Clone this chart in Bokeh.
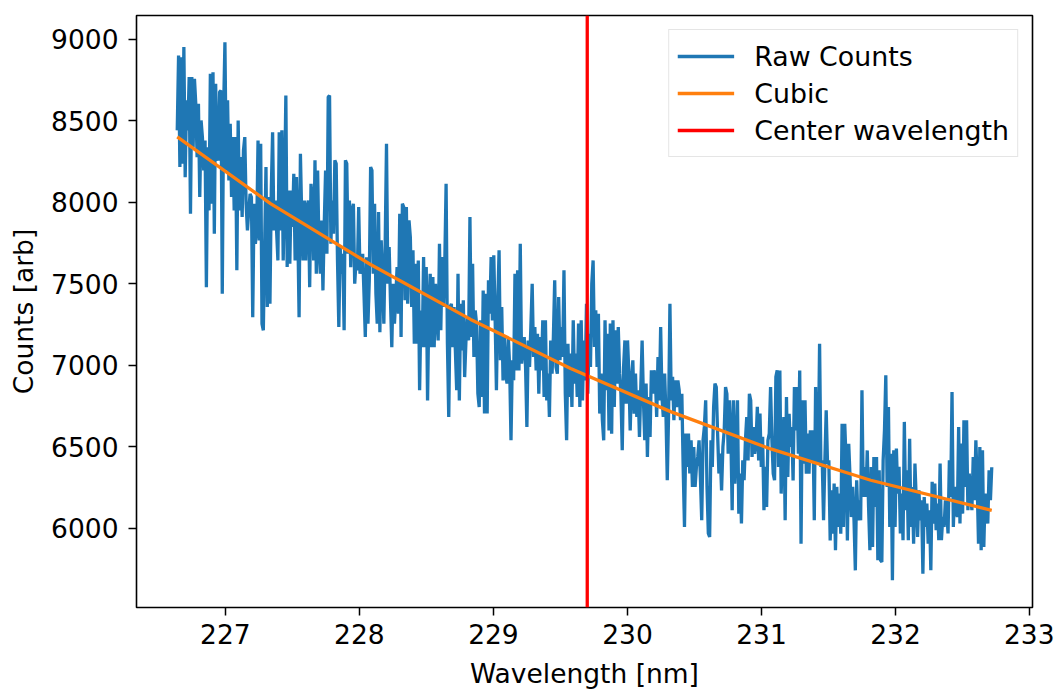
import numpy as np
from bokeh.plotting import figure
from bokeh.models import Range1d, FixedTicker
from bokeh.embed import file_html
from bokeh.resources import INLINE

# ---------------- data ----------------
wl_start = 226.641
wl_end = 232.718
center_wavelength = 229.70

counts_a = [8442, 8902, 8217, 8891, 8237, 8953, 8155, 8626, 8442, 8769, 7930, 8769, 8339, 8758, 8605, 8278,
            8605, 8033, 8503, 8401, 8196, 8380, 7480, 8339, 7951, 8789, 7992, 8799, 7808, 8728, 8278, 8257,
            8677, 8687, 7440, 8564, 8983, 8196, 8626, 8135, 8482, 8033, 8401, 7951, 8401, 7583, 8503, 7951,
            8278, 7910, 8319, 8401, 7992, 7828, 7951, 8053, 8033, 7296, 7992, 7746, 7828, 8380, 7767, 8360,
            7255, 7215, 7746, 8217, 7358, 8033, 7378, 8074, 8431, 7828, 8012, 7828]
counts_b = [7644, 8431, 7828, 8442, 7644, 8053, 8656, 7603, 8073, 7624, 8073, 7849, 8176, 7644, 8155, 7849,
            7296, 8298, 7910, 7644, 8012, 7644, 7971, 8012, 7480, 8114, 8012, 7644, 8258, 7562, 8196, 7726,
            7562, 7889, 7460, 7869, 8196, 7685, 8646, 8656, 7746, 8012, 7808, 8258, 8238, 7644, 7235, 7726,
            7562, 7685, 7215, 8258, 8238, 7685, 8012, 7603, 7951, 7992, 7501, 7644, 7583, 7971, 7562, 7644,
            7685, 7440, 7174, 7664, 7255, 7521, 8217, 8197, 7562, 7992, 7440]
counts_c = [7256, 7941, 7204, 7767, 7542, 7256, 7746, 8360, 7501, 7726, 7399, 7112, 7501, 7256, 7419, 7603,
            7317, 7930, 7174, 7992, 7971, 7399, 7971, 7378, 7890, 7787, 7358, 7706, 7133, 7624, 7133, 7644,
            6847, 7337, 7112, 7665, 7112, 7603, 6785, 7358, 7562, 7112, 7542, 7112, 7501, 7296, 7153, 7746,
            7215, 7665, 7358, 7624, 8114, 7133, 6683, 7358, 7378, 7112, 7358, 7092, 6847, 7562, 6785, 7378,
            7092, 7399, 6928, 7153, 7296, 7153, 7910, 7174, 7624, 7051, 7337, 7256]
counts_d = [6826, 6744, 7276, 6806, 7460, 6704, 7440, 6704, 7522, 7317, 7665, 7276, 7675, 7297, 6847, 7378,
            7706, 7031, 7358, 6908, 7174, 6949, 6888, 7174, 6990, 6540, 7031, 6908, 7562, 6969, 7583, 6969,
            7746, 7010, 7112, 7174, 6990, 6622, 7153, 6990, 7235, 7501, 7051, 7235, 6969, 7194, 6826, 7174,
            6969, 7276, 6806, 7276, 6785, 6949, 6683, 7153, 6949, 7174, 7522, 6990, 6949, 7419, 7031, 7235,
            7051, 7583, 6826, 6540, 7133, 6806, 7072, 6744, 7276, 6888, 7072, 6806]
counts_e = [7256, 6744, 7276, 6785, 7153, 6908, 7378, 6826, 7194, 6990, 7501, 7644, 7113, 7338, 6990, 7317,
            6704, 6949, 6663, 6540, 7276, 6847, 7194, 6601, 7256, 6581, 7276, 6744, 7215, 6888, 7235, 6949,
            6826, 6479, 6990, 7153, 6765, 7153, 6949, 6601, 6908, 7031, 6704, 6949, 6683, 6847, 6560, 6867,
            7153, 6785, 6540, 6888, 6438, 6806, 6560, 6969, 6826, 6969, 6929, 6683, 7051, 6785, 7235, 6806,
            6683, 6949, 6704, 6295, 6704, 7378, 6785, 6929, 6663, 6908, 6744, 6908]
counts_f = [6847, 6663, 6826, 6377, 6008, 6581, 6377, 6581, 6336, 6540, 6254, 6499, 6254, 6377, 6438, 6540,
            6315, 6049, 6540, 6622, 6786, 6254, 5968, 5947, 6540, 6377, 6745, 6888, 6867, 6581, 6336, 6458,
            6233, 6499, 6601, 6867, 6826, 6458, 6786, 6581, 6111, 6786, 6274, 6479, 6786, 6090, 6336, 6029,
            6417, 6295, 6540, 6683, 6417, 6826, 6786, 6438, 6622, 6458, 6520, 6745, 6417, 6704, 6377, 6561,
            6111, 6377, 6131, 6540, 6581, 6867, 6540, 6336, 6295, 6929, 6970, 6377]
counts_g = [6969, 6213, 6499, 6683, 6049, 6806, 6315, 6703, 6499, 6622, 6294, 6867, 6601, 6867, 6458, 6969,
            5906, 6785, 6397, 6785, 6335, 6581, 6335, 6601, 6417, 6601, 6049, 6867, 6397, 6417, 7133, 6376,
            6417, 6049, 6417, 6724, 6397, 6417, 5926, 6233, 5967, 6274, 5865, 6254, 6008, 6213, 5967, 6642,
            6008, 6642, 6417, 5926, 6519, 6315, 6069, 6254, 6049, 5742, 6294, 6049, 6172, 6049, 6847, 6192,
            6376, 6192, 6478, 6131, 5865, 6376, 5885, 6438, 6131, 6438, 5804, 6356]
counts_h = [5804, 5794, 6418, 6602, 6939, 6254, 6745, 6008, 6458, 5681, 6479, 6008, 6489, 6213, 6377, 5968,
            6213, 5927, 6653, 6111, 6356, 5927, 6550, 6008, 6254, 5906, 6397, 6172, 5947, 6233, 6049, 6172,
            5722, 6192, 6008, 6152, 5906, 6111, 5743, 6285, 6029, 6274, 5988, 6152, 5927, 6397, 5927, 6070,
            6008, 6172, 6111, 5968, 6418, 6192, 6837, 6008, 6254, 6111, 6070, 6622, 6029, 6520, 6090, 6663,
            6254, 6663, 6111, 6336, 6213, 6111, 6438, 6172, 6540, 6274, 5906, 6499, 5865, 6479, 5886, 6213,
            6090, 6029, 6356, 6172, 6375]

raw_counts = counts_a + counts_b + counts_c + counts_d + counts_e + counts_f + counts_g + counts_h
wavelength = np.linspace(wl_start, wl_end, len(raw_counts))

cubic_wavelength = [226.641, 227.337, 228.083, 228.830, 229.576, 230.322, 231.069, 231.815, 232.718]
cubic_counts = [8402, 7993, 7619, 7282, 6981, 6716, 6487, 6295, 6110]

x_ticks = [227, 228, 229, 230, 231, 232, 233]
y_ticks = [6000, 6500, 7000, 7500, 8000, 8500, 9000]
x_lim = (226.337, 233.022)
y_lim = (5514, 9147)

# ---------------- figure ----------------
FONT = "DejaVu Sans"
FS = "26.5px"

p = figure(frame_width=896, frame_height=592, output_backend="svg", toolbar_location=None,
           x_range=Range1d(*x_lim), y_range=Range1d(*y_lim),
           min_border_left=136, min_border_right=22, min_border_top=15, min_border_bottom=83)
p.background_fill_color = "white"
p.border_fill_color = "white"
p.xgrid.visible = False
p.ygrid.visible = False
p.outline_line_color = "black"
p.outline_line_width = 1.6
p.outline_line_alpha = 1.0

p.line(wavelength, raw_counts, line_color="#1f77b4", line_width=3.3, legend_label="Raw Counts")
p.line(cubic_wavelength, cubic_counts, line_color="#ff7f0e", line_width=3.3, legend_label="Cubic")
p.line([center_wavelength, center_wavelength], [y_lim[0], y_lim[1]], line_color="#ff0000",
       line_width=3.3, legend_label="Center wavelength")

for ax in (p.xaxis[0], p.yaxis[0]):
    ax.axis_line_color = None
    ax.major_tick_out = 8
    ax.major_tick_in = 0
    ax.major_tick_line_width = 1.5
    ax.major_tick_line_color = "black"
    ax.minor_tick_line_color = None
    ax.major_label_text_font = FONT
    ax.major_label_text_font_size = FS
    ax.major_label_text_color = "black"
    ax.axis_label_text_font = FONT
    ax.axis_label_text_font_size = FS
    ax.axis_label_text_font_style = "normal"
    ax.axis_label_text_color = "black"

p.xaxis.ticker = FixedTicker(ticks=x_ticks)
p.yaxis.ticker = FixedTicker(ticks=y_ticks)
p.xaxis.axis_label = "Wavelength [nm]"
p.yaxis.axis_label = "Counts [arb]"
p.xaxis.major_label_standoff = 8
p.xaxis.axis_label_standoff = 11
p.yaxis.major_label_standoff = 10
p.yaxis.axis_label_standoff = 9

lg = p.legend[0]
lg.location = "top_right"
lg.margin = 14
lg.padding = 8
lg.spacing = 1
lg.glyph_width = 57
lg.glyph_height = 36
lg.label_height = 36
lg.label_standoff = 20
lg.label_text_font = FONT
lg.label_text_font_size = "26.8px"
lg.label_text_color = "black"
lg.border_line_color = "#cccccc"
lg.border_line_width = 1.5
lg.background_fill_color = "white"
lg.background_fill_alpha = 0.8

open("out.html", "w").write(file_html(p, INLINE))
